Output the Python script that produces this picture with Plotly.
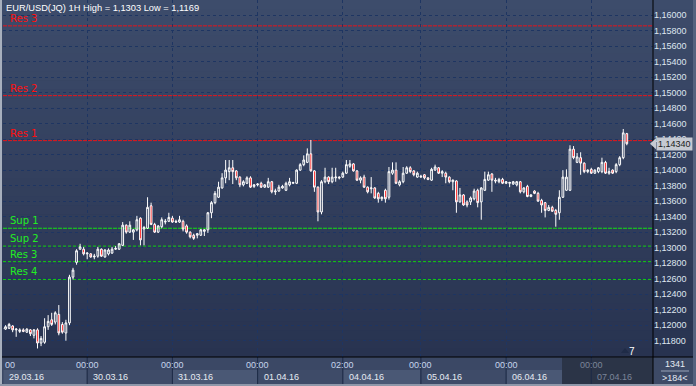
import plotly.graph_objects as go

# ---------------- data ----------------
header_text = "EUR/USD(JQ) 1H High = 1,1303 Low = 1,1169"

day_labels = ["29.03.16", "30.03.16", "31.03.16", "01.04.16", "04.04.16", "05.04.16", "06.04.16", "07.04.16"]
day_times = ["00:00", "00:00", "00:00", "00:00", "02:00", "00:00", "00:00", "00:00"]
day_start_bar = [0, 24, 48, 72, 96, 118, 142, 166]

opens = [
    1.1195, 1.1195, 1.1196, 1.1199, 1.1194, 1.1192, 1.1194, 1.1191, 1.1194, 1.1187,
    1.1194, 1.1177, 1.1178, 1.1198, 1.1207, 1.1204, 1.1214, 1.1201, 1.1190, 1.1203,
    1.1262, 1.1281, 1.1298, 1.1298, 1.1292, 1.1292, 1.1288, 1.1289, 1.1298, 1.1288,
    1.1292, 1.1293, 1.1298, 1.1298, 1.1303, 1.1329, 1.1320, 1.1320, 1.1323, 1.1338,
    1.1324, 1.1325, 1.1354, 1.1330, 1.1320, 1.1327, 1.1333, 1.1334, 1.1338, 1.1334,
    1.1333, 1.1334, 1.1328, 1.1320, 1.1316, 1.1316, 1.1316, 1.1321, 1.1323, 1.1345,
    1.1358, 1.1365, 1.1377, 1.1390, 1.1398, 1.1403, 1.1399, 1.1391, 1.1381, 1.1383,
    1.1390, 1.1379, 1.1381, 1.1383, 1.1378, 1.1378, 1.1385, 1.1372, 1.1373, 1.1377,
    1.1374, 1.1381, 1.1383, 1.1383, 1.1400, 1.1407, 1.1410, 1.1421, 1.1399, 1.1378,
    1.1346, 1.1385, 1.1391, 1.1385, 1.1390, 1.1391, 1.1391, 1.1396, 1.1405, 1.1408,
    1.1399, 1.1387, 1.1391, 1.1378, 1.1376, 1.1377, 1.1370, 1.1363, 1.1374, 1.1365,
    1.1396, 1.1400, 1.1381, 1.1385, 1.1396, 1.1403, 1.1399, 1.1391, 1.1391, 1.1394,
    1.1390, 1.1387, 1.1400, 1.1403, 1.1396, 1.1396, 1.1391, 1.1385, 1.1386, 1.1359,
    1.1368, 1.1359, 1.1359, 1.1363, 1.1374, 1.1359, 1.1374, 1.1387, 1.1395, 1.1387,
    1.1385, 1.1388, 1.1383, 1.1383, 1.1382, 1.1381, 1.1385, 1.1372, 1.1379, 1.1366,
    1.1373, 1.1370, 1.1361, 1.1358, 1.1348, 1.1352, 1.1348, 1.1345, 1.1365, 1.1374,
    1.1374, 1.1427, 1.1410, 1.1416, 1.1409, 1.1398, 1.1401, 1.1396, 1.1398, 1.1398,
    1.1410, 1.1396, 1.1400, 1.1398, 1.1407, 1.1416, 1.1447,
]
highs = [
    1.1198, 1.1200, 1.1203, 1.1200, 1.1196, 1.1196, 1.1196, 1.1196, 1.1195, 1.1195,
    1.1196, 1.1186, 1.1209, 1.1213, 1.1216, 1.1218, 1.1226, 1.1204, 1.1207, 1.1265,
    1.1274, 1.1298, 1.1305, 1.1301, 1.1294, 1.1293, 1.1292, 1.1301, 1.1299, 1.1298,
    1.1299, 1.1301, 1.1302, 1.1306, 1.1333, 1.1330, 1.1334, 1.1324, 1.1341, 1.1339,
    1.1328, 1.1365, 1.1358, 1.1332, 1.1329, 1.1339, 1.1337, 1.1345, 1.1341, 1.1336,
    1.1341, 1.1336, 1.1330, 1.1321, 1.1318, 1.1319, 1.1324, 1.1324, 1.1346, 1.1360,
    1.1373, 1.1385, 1.1396, 1.1413, 1.1413, 1.1413, 1.1400, 1.1392, 1.1387, 1.1392,
    1.1392, 1.1382, 1.1383, 1.1385, 1.1382, 1.1390, 1.1386, 1.1376, 1.1381, 1.1381,
    1.1385, 1.1390, 1.1385, 1.1401, 1.1409, 1.1419, 1.1428, 1.1439, 1.1400, 1.1379,
    1.1387, 1.1403, 1.1392, 1.1403, 1.1403, 1.1392, 1.1398, 1.1413, 1.1413, 1.1409,
    1.1400, 1.1392, 1.1394, 1.1379, 1.1391, 1.1378, 1.1372, 1.1366, 1.1376, 1.1404,
    1.1410, 1.1410, 1.1387, 1.1404, 1.1405, 1.1405, 1.1400, 1.1398, 1.1394, 1.1395,
    1.1391, 1.1403, 1.1407, 1.1404, 1.1400, 1.1398, 1.1392, 1.1388, 1.1387, 1.1377,
    1.1369, 1.1361, 1.1366, 1.1376, 1.1376, 1.1378, 1.1398, 1.1398, 1.1396, 1.1390,
    1.1390, 1.1390, 1.1386, 1.1385, 1.1386, 1.1386, 1.1386, 1.1378, 1.1381, 1.1369,
    1.1374, 1.1372, 1.1363, 1.1359, 1.1355, 1.1354, 1.1350, 1.1374, 1.1400, 1.1401,
    1.1432, 1.1431, 1.1422, 1.1423, 1.1410, 1.1401, 1.1403, 1.1401, 1.1404, 1.1416,
    1.1412, 1.1403, 1.1401, 1.1409, 1.1418, 1.1453, 1.1448,
]
lows = [
    1.1194, 1.1194, 1.1195, 1.1191, 1.1185, 1.1190, 1.1191, 1.1190, 1.1186, 1.1183,
    1.1170, 1.1173, 1.1176, 1.1194, 1.1199, 1.1201, 1.1187, 1.1189, 1.1180, 1.1200,
    1.1259, 1.1278, 1.1297, 1.1290, 1.1285, 1.1287, 1.1285, 1.1287, 1.1288, 1.1287,
    1.1290, 1.1292, 1.1297, 1.1297, 1.1302, 1.1318, 1.1319, 1.1310, 1.1321, 1.1303,
    1.1303, 1.1324, 1.1329, 1.1319, 1.1319, 1.1325, 1.1330, 1.1333, 1.1332, 1.1332,
    1.1332, 1.1321, 1.1318, 1.1312, 1.1310, 1.1312, 1.1315, 1.1315, 1.1319, 1.1338,
    1.1356, 1.1364, 1.1376, 1.1383, 1.1387, 1.1382, 1.1387, 1.1378, 1.1379, 1.1382,
    1.1377, 1.1377, 1.1379, 1.1377, 1.1377, 1.1377, 1.1370, 1.1368, 1.1372, 1.1376,
    1.1373, 1.1379, 1.1382, 1.1382, 1.1399, 1.1405, 1.1409, 1.1398, 1.1372, 1.1334,
    1.1343, 1.1383, 1.1382, 1.1383, 1.1385, 1.1388, 1.1390, 1.1395, 1.1403, 1.1398,
    1.1386, 1.1383, 1.1377, 1.1370, 1.1370, 1.1363, 1.1358, 1.1360, 1.1358, 1.1362,
    1.1394, 1.1382, 1.1379, 1.1383, 1.1395, 1.1396, 1.1392, 1.1390, 1.1390, 1.1388,
    1.1387, 1.1386, 1.1399, 1.1395, 1.1391, 1.1383, 1.1383, 1.1374, 1.1345, 1.1358,
    1.1354, 1.1352, 1.1355, 1.1361, 1.1352, 1.1336, 1.1373, 1.1386, 1.1372, 1.1383,
    1.1383, 1.1382, 1.1382, 1.1378, 1.1381, 1.1379, 1.1370, 1.1370, 1.1365, 1.1365,
    1.1369, 1.1359, 1.1345, 1.1339, 1.1347, 1.1346, 1.1327, 1.1336, 1.1364, 1.1373,
    1.1373, 1.1414, 1.1409, 1.1394, 1.1396, 1.1396, 1.1395, 1.1395, 1.1396, 1.1396,
    1.1395, 1.1394, 1.1395, 1.1396, 1.1405, 1.1414, 1.1432,
]
closes = [
    1.1196, 1.1198, 1.1201, 1.1194, 1.1195, 1.1194, 1.1192, 1.1195, 1.1189, 1.1194,
    1.1177, 1.1183, 1.1198, 1.1205, 1.1201, 1.1216, 1.1190, 1.1191, 1.1203, 1.1262,
    1.1271, 1.1296, 1.1301, 1.1292, 1.1293, 1.1288, 1.1289, 1.1298, 1.1289, 1.1297,
    1.1297, 1.1298, 1.1299, 1.1305, 1.1329, 1.1320, 1.1329, 1.1323, 1.1336, 1.1310,
    1.1326, 1.1352, 1.1330, 1.1320, 1.1328, 1.1336, 1.1334, 1.1339, 1.1333, 1.1333,
    1.1336, 1.1324, 1.1320, 1.1314, 1.1312, 1.1318, 1.1323, 1.1323, 1.1345, 1.1358,
    1.1370, 1.1378, 1.1390, 1.1400, 1.1403, 1.1398, 1.1390, 1.1381, 1.1385, 1.1390,
    1.1378, 1.1381, 1.1382, 1.1378, 1.1381, 1.1385, 1.1372, 1.1373, 1.1378, 1.1379,
    1.1383, 1.1385, 1.1384, 1.1400, 1.1407, 1.1413, 1.1421, 1.1399, 1.1378, 1.1346,
    1.1385, 1.1391, 1.1385, 1.1391, 1.1391, 1.1390, 1.1396, 1.1407, 1.1408, 1.1399,
    1.1387, 1.1390, 1.1378, 1.1372, 1.1377, 1.1364, 1.1363, 1.1365, 1.1363, 1.1398,
    1.1400, 1.1383, 1.1385, 1.1396, 1.1403, 1.1398, 1.1394, 1.1396, 1.1392, 1.1390,
    1.1388, 1.1401, 1.1404, 1.1396, 1.1398, 1.1391, 1.1385, 1.1387, 1.1359, 1.1368,
    1.1355, 1.1355, 1.1364, 1.1373, 1.1358, 1.1377, 1.1388, 1.1394, 1.1387, 1.1386,
    1.1388, 1.1383, 1.1385, 1.1384, 1.1385, 1.1385, 1.1372, 1.1377, 1.1366, 1.1368,
    1.1370, 1.1360, 1.1355, 1.1348, 1.1352, 1.1347, 1.1343, 1.1365, 1.1391, 1.1391,
    1.1427, 1.1416, 1.1417, 1.1409, 1.1398, 1.1400, 1.1396, 1.1400, 1.1403, 1.1410,
    1.1396, 1.1398, 1.1396, 1.1407, 1.1416, 1.1448, 1.1434,
]

level_names = ["Res 3", "Res 2", "Res 1", "Sup 1", "Sup 2", "Res 3", "Res 4"]
level_values = [1.1586, 1.1496, 1.1438, 1.1325, 1.1302, 1.1282, 1.1259]
level_kind = ["red", "red", "red", "green_solid", "green", "green", "green"]

y_tick_values = [1.118, 1.120, 1.122, 1.124, 1.126, 1.128, 1.130, 1.132, 1.134, 1.136, 1.138,
                 1.140, 1.142, 1.144, 1.146, 1.148, 1.150, 1.152, 1.154, 1.156, 1.158, 1.160]
y_tick_text = ["1,11800", "1,12000", "1,12200", "1,12400", "1,12600", "1,12800", "1,13000",
               "1,13200", "1,13400", "1,13600", "1,13800", "1,14000", "1,14200", "1,14400",
               "1,14600", "1,14800", "1,15000", "1,15200", "1,15400", "1,15600", "1,15800",
               "1,16000"]
last_price = 1.1434
last_price_text = "1,14340"
bars_info = ["1341", ">184<"]
scale_text = "7"

# ---------------- layout geometry (pixels) ----------------
W, H = 696, 386
PL, PR, PT, PB = 3, 653, 0, 357
BAR0_PX, BAR_PX = 2.0, 3.55           # pixel of bar 0, pixels per bar
Y_TOP, Y_BOT = 1.161934, 1.115900      # price at top / bottom of plot


def xp(px):
    return (px - PL) / (PR - PL)


def yp(py):
    return (PB - py) / (PB - PT)


def bar_px(i):
    return BAR0_PX + BAR_PX * i


x_idx = list(range(len(opens)))

fig = go.Figure()
fig.add_trace(go.Candlestick(
    x=x_idx, open=opens, high=highs, low=lows, close=closes,
    increasing=dict(line=dict(color="#ffffff", width=1), fillcolor="rgba(0,0,0,0)"),
    decreasing=dict(line=dict(color="#ffffff", width=1), fillcolor="#ff0000"),
    whiskerwidth=0, hoverinfo="skip", showlegend=False,
))

shapes = []
# background gradient
top_c, bot_c = (61, 76, 107), (40, 51, 80)
N = 40
for k in range(N):
    py0 = PB * k / N
    py1 = PB * (k + 1) / N
    t = (k + 0.5) / N
    c = tuple(int(round(top_c[j] + (bot_c[j] - top_c[j]) * t)) for j in range(3))
    shapes.append(dict(type="rect", xref="paper", yref="paper", x0=xp(0), x1=xp(W),
                       y0=yp(py1 + 0.5), y1=yp(py0), fillcolor="rgb(%d,%d,%d)" % c,
                       line=dict(width=0), layer="below"))
# bottom time bar
shapes.append(dict(type="rect", xref="paper", yref="paper", x0=xp(0), x1=xp(W),
                   y0=yp(386), y1=yp(357), fillcolor="#3b4865", line=dict(width=0), layer="below"))
bounds = [bar_px(b) for b in day_start_bar] + [PR]
bounds[0] = PL
box_cols = ["#4a5875", "#3e4b68"]
for k in range(len(day_start_bar)):
    shapes.append(dict(type="rect", xref="paper", yref="paper", x0=xp(bounds[k] + 0.5),
                       x1=xp(bounds[k + 1] - 0.5), y0=yp(384), y1=yp(370),
                       fillcolor=box_cols[k % 2], line=dict(width=0), layer="below"))
# shaded future area
shapes.append(dict(type="rect", xref="paper", yref="paper", x0=xp(562), x1=xp(PR),
                   y0=yp(384), y1=yp(357.5), fillcolor="#2b3447", line=dict(width=0), layer="below"))
for b in bounds[1:-1]:
    shapes.append(dict(type="line", xref="paper", yref="paper", x0=xp(b), x1=xp(b),
                       y0=yp(384), y1=yp(357), line=dict(color="#1d2a46", width=1), layer="below"))
# right bottom info box
shapes.append(dict(type="rect", xref="paper", yref="paper", x0=xp(PR), x1=xp(W),
                   y0=yp(386), y1=yp(357), fillcolor="#3d4a66", line=dict(width=0), layer="below"))
shapes.append(dict(type="line", xref="paper", yref="paper", x0=xp(661), x1=xp(689),
                   y0=yp(371), y1=yp(371), line=dict(color="#9aa4b8", width=1)))
# borders
shapes.append(dict(type="rect", xref="paper", yref="paper", x0=xp(0), x1=xp(2),
                   y0=yp(386), y1=yp(0), fillcolor="#a7afbd", line=dict(width=0)))
shapes.append(dict(type="rect", xref="paper", yref="paper", x0=xp(0), x1=xp(W),
                   y0=yp(386), y1=yp(384), fillcolor="#8e97a9", line=dict(width=0)))
shapes.append(dict(type="rect", xref="paper", yref="paper", x0=xp(693), x1=xp(W),
                   y0=yp(386), y1=yp(0), fillcolor="#55627e", line=dict(width=0)))
shapes.append(dict(type="line", xref="paper", yref="paper", x0=xp(PR), x1=xp(PR),
                   y0=yp(384), y1=yp(0), line=dict(color="#000000", width=1)))
shapes.append(dict(type="line", xref="paper", yref="paper", x0=xp(2), x1=xp(693),
                   y0=yp(357), y1=yp(357), line=dict(color="#000000", width=1)))

# support / resistance lines
style = {
    "red": dict(color="#e8141a", dash="4px,1px"),
    "green_solid": dict(color="#12e012", dash="4px,1px"),
    "green": dict(color="#10d010", dash="3px,2px"),
}
for name, val, kind in zip(level_names, level_values, level_kind):
    s = style[kind]
    shapes.append(dict(type="line", xref="paper", yref="y", x0=0, x1=1, y0=val, y1=val,
                       line=dict(color=s["color"], width=1, dash=s["dash"]), layer="below"))

# arrow of last price label
d = 5.5 * (Y_TOP - Y_BOT) / (PB - PT)
shapes.append(dict(type="path", xref="paper", yref="y",
                   path="M %f,%f L %f,%f L %f,%f Z" % (xp(650), last_price, xp(656), last_price + d,
                                                     xp(656), last_price - d),
                   fillcolor="#c6cad2", line=dict(width=0)))
# small scale marker triangle
shapes.append(dict(type="path", xref="paper", yref="paper",
                   path="M %f,%f L %f,%f L %f,%f Z" % (xp(621), yp(353), xp(629), yp(353), xp(625), yp(348)),
                   fillcolor="#1f2b47", line=dict(width=0)))

ann = []
ann.append(dict(text=header_text, xref="paper", yref="paper", x=xp(4), y=yp(8), xanchor="left",
                yanchor="middle", showarrow=False, font=dict(family="Liberation Sans, Arial", size=9.3, color="#ffffff")))
for name, val, kind in zip(level_names, level_values, level_kind):
    col = "#ff1010" if kind == "red" else "#22ee22"
    ann.append(dict(text=name, xref="paper", yref="y", x=xp(8), y=val, xanchor="left", yanchor="bottom",
                    yshift=0, showarrow=False, font=dict(family="DejaVu Sans", size=10, color=col)))
# time labels
ann.append(dict(text="00", xref="paper", yref="paper", x=xp(3), y=yp(365), xanchor="left", yanchor="middle",
                showarrow=False, font=dict(family="Liberation Sans, Arial", size=9, color="#c6d5ec")))
for k in range(1, len(day_start_bar)):
    col = "#7b8599" if k == len(day_start_bar) - 1 else "#c6d5ec"
    ann.append(dict(text=day_times[k], xref="x", yref="paper", x=day_start_bar[k], y=yp(365),
                    xanchor="center", yanchor="middle", showarrow=False,
                    font=dict(family="Liberation Sans, Arial", size=9, color=col)))
for k in range(len(day_start_bar)):
    col = "#7b8599" if k == len(day_start_bar) - 1 else "#e6ebf3"
    ann.append(dict(text=day_labels[k], xref="paper", yref="paper", x=xp(bounds[k] + 4), y=yp(377),
                    xanchor="left", yanchor="middle", showarrow=False,
                    font=dict(family="Liberation Sans, Arial", size=9, color=col)))
ann.append(dict(text=bars_info[0], xref="paper", yref="paper", x=xp(675), y=yp(364), xanchor="center",
                yanchor="middle", showarrow=False, font=dict(family="Liberation Sans, Arial", size=9, color="#e6ebf3")))
ann.append(dict(text=bars_info[1], xref="paper", yref="paper", x=xp(675), y=yp(378), xanchor="center",
                yanchor="middle", showarrow=False, font=dict(family="Liberation Sans, Arial", size=9, color="#e6ebf3")))
ann.append(dict(text=scale_text, xref="paper", yref="paper", x=xp(632), y=yp(351), xanchor="center",
                yanchor="middle", showarrow=False, font=dict(family="Liberation Sans, Arial", size=10, color="#ffffff")))
ann.append(dict(text=last_price_text, xref="paper", yref="y", x=xp(656), y=last_price, xanchor="left",
                yanchor="middle", showarrow=False, bgcolor="#c6cad2", borderpad=1,
                font=dict(family="Liberation Sans, Arial", size=9, color="#1a1a1a")))

fig.update_layout(
    width=W, height=H, autosize=False,
    margin=dict(l=PL, r=W - PR, t=PT, b=H - PB, pad=0),
    paper_bgcolor="#2f3a58", plot_bgcolor="rgba(0,0,0,0)",
    shapes=shapes, annotations=ann, showlegend=False,
    xaxis=dict(range=[(PL - BAR0_PX) / BAR_PX, (PR - BAR0_PX) / BAR_PX], tickvals=day_start_bar,
               showticklabels=False, ticks="", showgrid=True, gridcolor="#1e3562", gridwidth=1,
               griddash="3px,3px", zeroline=False, rangeslider=dict(visible=False), fixedrange=True),
    yaxis=dict(range=[Y_BOT, Y_TOP], side="right", tickvals=y_tick_values, ticktext=y_tick_text,
               ticks="", showgrid=True, gridcolor="#1e3562", gridwidth=1, griddash="3px,3px",
               zeroline=False, tickfont=dict(family="Liberation Sans, Arial", size=9, color="#dfe6f0"),
               fixedrange=True),
)

fig.write_html("out.html", config={"displayModeBar": False})
